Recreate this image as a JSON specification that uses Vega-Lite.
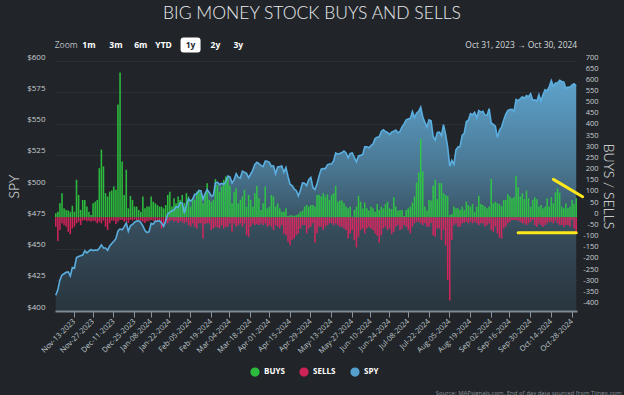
{
"$schema":"https://vega.github.io/schema/vega-lite/v6.json",
"width":522,"height":250,
"autosize":{"type":"none"},
"padding":{"left":55,"top":61,"right":47,"bottom":84},
"background":"#212529",
"config":{"view":{"stroke":null},"font":"Open Sans","axis":{"labelOverlap":false},
"axisRight":{"labelExpr":"'' + datum.value","labelAlign":"right","labelPadding":21,"labelBaseline":"bottom","labelFontSize":7.5,"labelColor":"#c8cdd2","labelBound":false,"ticks":false,"tickSize":0,"domain":false,"grid":false,"titleAngle":90,"titleFont":"Lato","titleFontSize":14,"titleFontWeight":300,"titleColor":"#e6e8ea","titlePadding":2}},
"title":{"text":"BIG MONEY STOCK BUYS AND SELLS","frame":"group","anchor":"middle","offset":15,"fontSize":17.5,"font":"Lato","fontWeight":300,"color":"#e9ecef","dx":-4},
"datasets":{
"main":[
{"d":"2023-10-31","b":18,"s":-42,"p":412.6},{"d":"2023-11-01","b":25,"s":-106,"p":416.9},{"d":"2023-11-02","b":63,"s":-57,"p":424.9},{"d":"2023-11-03","b":108,"s":-27,"p":428.8},{"d":"2023-11-06","b":40,"s":-35,"p":429.8},{"d":"2023-11-07","b":33,"s":-42,"p":431.0},{"d":"2023-11-08","b":30,"s":-65,"p":431.3},{"d":"2023-11-09","b":25,"s":-75,"p":428.0},{"d":"2023-11-10","b":52,"s":-50,"p":434.7},
{"d":"2023-11-13","b":25,"s":-42,"p":434.2},{"d":"2023-11-14","b":168,"s":-27,"p":442.7},{"d":"2023-11-15","b":100,"s":-20,"p":443.6},{"d":"2023-11-16","b":33,"s":-35,"p":444.2},{"d":"2023-11-17","b":78,"s":-15,"p":444.7},{"d":"2023-11-20","b":78,"s":-12,"p":448.1},{"d":"2023-11-21","b":48,"s":-18,"p":446.5},{"d":"2023-11-22","b":25,"s":-15,"p":447.9},{"d":"2023-11-24","b":10,"s":-20,"p":449.2},
{"d":"2023-11-27","b":63,"s":-15,"p":448.3},{"d":"2023-11-28","b":70,"s":-18,"p":448.8},{"d":"2023-11-29","b":78,"s":-27,"p":448.5},{"d":"2023-11-30","b":220,"s":-20,"p":450.2},{"d":"2023-12-01","b":303,"s":-27,"p":452.9},{"d":"2023-12-04","b":228,"s":-15,"p":450.5},{"d":"2023-12-05","b":108,"s":-42,"p":450.4},{"d":"2023-12-06","b":93,"s":-57,"p":448.6},{"d":"2023-12-07","b":115,"s":-27,"p":452.0},{"d":"2023-12-08","b":120,"s":-15,"p":454.0},
{"d":"2023-12-11","b":138,"s":-15,"p":455.8},{"d":"2023-12-12","b":123,"s":-30,"p":457.8},{"d":"2023-12-13","b":505,"s":-20,"p":464.1},{"d":"2023-12-14","b":648,"s":-12,"p":465.6},{"d":"2023-12-15","b":250,"s":-12,"p":464.9},{"d":"2023-12-18","b":100,"s":-20,"p":467.5},{"d":"2023-12-19","b":213,"s":-15,"p":470.3},{"d":"2023-12-20","b":40,"s":-25,"p":463.8},{"d":"2023-12-21","b":96,"s":-12,"p":468.2},{"d":"2023-12-22","b":78,"s":-15,"p":469.2},
{"d":"2023-12-26","b":48,"s":-10,"p":471.1},{"d":"2023-12-27","b":48,"s":-12,"p":472.0},{"d":"2023-12-28","b":33,"s":-18,"p":472.2},{"d":"2023-12-29","b":25,"s":-15,"p":470.8},{"d":"2024-01-02","b":93,"s":-20,"p":468.2},{"d":"2024-01-03","b":40,"s":-25,"p":464.3},{"d":"2024-01-04","b":48,"s":-18,"p":462.8},{"d":"2024-01-05","b":48,"s":-15,"p":463.5},
{"d":"2024-01-08","b":93,"s":-12,"p":470.1},{"d":"2024-01-09","b":70,"s":-15,"p":469.4},{"d":"2024-01-10","b":63,"s":-20,"p":472.0},{"d":"2024-01-11","b":55,"s":-18,"p":471.8},{"d":"2024-01-12","b":48,"s":-15,"p":472.2},{"d":"2024-01-16","b":48,"s":-50,"p":470.4},{"d":"2024-01-17","b":40,"s":-35,"p":467.8},{"d":"2024-01-18","b":55,"s":-25,"p":472.0},{"d":"2024-01-19","b":100,"s":-27,"p":477.8},
{"d":"2024-01-22","b":115,"s":-15,"p":478.9},{"d":"2024-01-23","b":48,"s":-12,"p":480.3},{"d":"2024-01-24","b":85,"s":-20,"p":480.8},{"d":"2024-01-25","b":63,"s":-15,"p":483.4},{"d":"2024-01-26","b":93,"s":-25,"p":482.8},{"d":"2024-01-29","b":78,"s":-18,"p":486.6},{"d":"2024-01-30","b":100,"s":-20,"p":486.2},{"d":"2024-01-31","b":65,"s":-27,"p":478.3},{"d":"2024-02-01","b":108,"s":-20,"p":484.5},{"d":"2024-02-02","b":93,"s":-35,"p":489.7},
{"d":"2024-02-05","b":48,"s":-42,"p":487.9},{"d":"2024-02-06","b":85,"s":-27,"p":489.3},{"d":"2024-02-07","b":78,"s":-42,"p":493.4},{"d":"2024-02-08","b":115,"s":-50,"p":493.6},{"d":"2024-02-09","b":123,"s":-27,"p":496.4},{"d":"2024-02-12","b":108,"s":-27,"p":496.2},{"d":"2024-02-13","b":63,"s":-95,"p":489.4},{"d":"2024-02-14","b":108,"s":-30,"p":493.8},{"d":"2024-02-15","b":153,"s":-27,"p":497.2},{"d":"2024-02-16","b":78,"s":-27,"p":494.8},
{"d":"2024-02-20","b":70,"s":-57,"p":492.0},{"d":"2024-02-21","b":78,"s":-50,"p":492.5},{"d":"2024-02-22","b":171,"s":-42,"p":502.7},{"d":"2024-02-23","b":145,"s":-45,"p":503.0},{"d":"2024-02-26","b":115,"s":-50,"p":501.2},{"d":"2024-02-27","b":138,"s":-35,"p":502.1},{"d":"2024-02-28","b":168,"s":-50,"p":501.4},{"d":"2024-02-29","b":183,"s":-42,"p":503.3},{"d":"2024-03-01","b":180,"s":-42,"p":508.0},
{"d":"2024-03-04","b":141,"s":-27,"p":507.4},{"d":"2024-03-05","b":63,"s":-65,"p":502.4},{"d":"2024-03-06","b":115,"s":-27,"p":504.9},{"d":"2024-03-07","b":130,"s":-42,"p":509.9},{"d":"2024-03-08","b":63,"s":-35,"p":506.9},{"d":"2024-03-11","b":78,"s":-27,"p":506.4},{"d":"2024-03-12","b":93,"s":-42,"p":511.9},{"d":"2024-03-13","b":123,"s":-27,"p":511.1},{"d":"2024-03-14","b":48,"s":-80,"p":510.1},{"d":"2024-03-15","b":100,"s":-87,"p":506.6},
{"d":"2024-03-18","b":78,"s":-42,"p":509.6},{"d":"2024-03-19","b":48,"s":-27,"p":512.5},{"d":"2024-03-20","b":108,"s":-35,"p":517.2},{"d":"2024-03-21","b":141,"s":-30,"p":518.9},{"d":"2024-03-22","b":85,"s":-35,"p":517.9},{"d":"2024-03-25","b":33,"s":-27,"p":516.5},{"d":"2024-03-26","b":63,"s":-35,"p":515.5},{"d":"2024-03-27","b":138,"s":-27,"p":519.9},{"d":"2024-03-28","b":40,"s":-42,"p":519.8},
{"d":"2024-04-01","b":48,"s":-35,"p":518.9},{"d":"2024-04-02","b":100,"s":-42,"p":515.6},{"d":"2024-04-03","b":93,"s":-57,"p":516.1},{"d":"2024-04-04","b":48,"s":-35,"p":509.8},{"d":"2024-04-05","b":63,"s":-42,"p":515.2},{"d":"2024-04-08","b":40,"s":-50,"p":515.5},{"d":"2024-04-09","b":25,"s":-35,"p":516.0},{"d":"2024-04-10","b":25,"s":-72,"p":510.9},{"d":"2024-04-11","b":40,"s":-80,"p":514.7},{"d":"2024-04-12","b":6,"s":-110,"p":507.6},
{"d":"2024-04-15","b":9,"s":-125,"p":501.3},{"d":"2024-04-16","b":9,"s":-102,"p":500.4},{"d":"2024-04-17","b":6,"s":-95,"p":497.4},{"d":"2024-04-18","b":10,"s":-80,"p":496.4},{"d":"2024-04-19","b":15,"s":-72,"p":492.0},{"d":"2024-04-22","b":25,"s":-50,"p":496.6},{"d":"2024-04-23","b":30,"s":-35,"p":502.5},{"d":"2024-04-24","b":48,"s":-35,"p":502.2},{"d":"2024-04-25","b":55,"s":-72,"p":500.3},{"d":"2024-04-26","b":48,"s":-50,"p":505.1},
{"d":"2024-04-29","b":55,"s":-42,"p":506.8},{"d":"2024-04-30","b":55,"s":-27,"p":498.8},{"d":"2024-05-01","b":48,"s":-114,"p":497.2},{"d":"2024-05-02","b":100,"s":-70,"p":501.8},{"d":"2024-05-03","b":100,"s":-42,"p":508.1},{"d":"2024-05-06","b":93,"s":-42,"p":513.5},{"d":"2024-05-07","b":108,"s":-57,"p":513.9},{"d":"2024-05-08","b":93,"s":-42,"p":513.9},{"d":"2024-05-09","b":103,"s":-35,"p":516.9},{"d":"2024-05-10","b":78,"s":-27,"p":517.6},
{"d":"2024-05-13","b":100,"s":-27,"p":517.6},{"d":"2024-05-14","b":108,"s":-35,"p":520.0},{"d":"2024-05-15","b":141,"s":-27,"p":526.4},{"d":"2024-05-16","b":70,"s":-35,"p":525.4},{"d":"2024-05-17","b":75,"s":-42,"p":526.1},{"d":"2024-05-20","b":75,"s":-42,"p":526.7},{"d":"2024-05-21","b":63,"s":-50,"p":528.0},{"d":"2024-05-22","b":48,"s":-57,"p":526.5},{"d":"2024-05-23","b":40,"s":-95,"p":522.6},{"d":"2024-05-24","b":48,"s":-72,"p":526.1},
{"d":"2024-05-28","b":3,"s":-57,"p":526.5},{"d":"2024-05-29","b":33,"s":-102,"p":522.8},{"d":"2024-05-30","b":48,"s":-135,"p":519.3},{"d":"2024-05-31","b":96,"s":-87,"p":524.0},{"d":"2024-06-03","b":70,"s":-57,"p":524.5},{"d":"2024-06-04","b":40,"s":-50,"p":525.1},{"d":"2024-06-05","b":66,"s":-72,"p":531.3},{"d":"2024-06-06","b":40,"s":-50,"p":531.3},{"d":"2024-06-07","b":30,"s":-42,"p":530.6},
{"d":"2024-06-10","b":48,"s":-50,"p":532.3},{"d":"2024-06-11","b":40,"s":-57,"p":533.6},{"d":"2024-06-12","b":25,"s":-72,"p":537.9},{"d":"2024-06-13","b":60,"s":-83,"p":539.0},{"d":"2024-06-14","b":33,"s":-114,"p":539.4},{"d":"2024-06-17","b":48,"s":-80,"p":543.7},{"d":"2024-06-18","b":40,"s":-50,"p":545.0},{"d":"2024-06-20","b":60,"s":-42,"p":543.6},{"d":"2024-06-21","b":70,"s":-57,"p":542.8},
{"d":"2024-06-24","b":40,"s":-50,"p":541.1},{"d":"2024-06-25","b":36,"s":-75,"p":543.1},{"d":"2024-06-26","b":90,"s":-65,"p":543.8},{"d":"2024-06-27","b":48,"s":-42,"p":544.7},{"d":"2024-06-28","b":30,"s":-35,"p":542.5},{"d":"2024-07-01","b":33,"s":-57,"p":543.6},{"d":"2024-07-02","b":33,"s":-50,"p":547.3},{"d":"2024-07-03","b":6,"s":-35,"p":549.7},{"d":"2024-07-05","b":33,"s":-42,"p":552.9},
{"d":"2024-07-08","b":40,"s":-57,"p":553.6},{"d":"2024-07-09","b":48,"s":-72,"p":554.1},{"d":"2024-07-10","b":66,"s":-42,"p":559.6},{"d":"2024-07-11","b":93,"s":-27,"p":554.8},{"d":"2024-07-12","b":156,"s":-20,"p":558.3},{"d":"2024-07-15","b":201,"s":-20,"p":559.8},{"d":"2024-07-16","b":351,"s":-27,"p":563.1},{"d":"2024-07-17","b":205,"s":-35,"p":555.2},{"d":"2024-07-18","b":48,"s":-27,"p":550.9},{"d":"2024-07-19","b":30,"s":-42,"p":547.3},
{"d":"2024-07-22","b":78,"s":-42,"p":552.9},{"d":"2024-07-23","b":75,"s":-26,"p":552.1},{"d":"2024-07-24","b":141,"s":-80,"p":539.6},{"d":"2024-07-25","b":168,"s":-87,"p":536.7},{"d":"2024-07-26","b":81,"s":-50,"p":542.8},{"d":"2024-07-29","b":153,"s":-50,"p":543.1},{"d":"2024-07-30","b":153,"s":-102,"p":540.3},{"d":"2024-07-31","b":108,"s":-57,"p":549.1},{"d":"2024-08-01","b":100,"s":-125,"p":541.3},{"d":"2024-08-02","b":95,"s":-280,"p":531.2},
{"d":"2024-08-05","b":10,"s":-372,"p":515.8},{"d":"2024-08-06","b":15,"s":-102,"p":520.5},{"d":"2024-08-07","b":48,"s":-35,"p":517.1},{"d":"2024-08-08","b":40,"s":-27,"p":529.0},{"d":"2024-08-09","b":40,"s":-42,"p":531.3},{"d":"2024-08-12","b":33,"s":-42,"p":531.6},{"d":"2024-08-13","b":48,"s":-27,"p":540.4},{"d":"2024-08-14","b":33,"s":-24,"p":542.1},{"d":"2024-08-15","b":70,"s":-20,"p":551.4},{"d":"2024-08-16","b":55,"s":-27,"p":552.6},
{"d":"2024-08-19","b":48,"s":-20,"p":557.9},{"d":"2024-08-20","b":60,"s":-27,"p":557.0},{"d":"2024-08-21","b":25,"s":-20,"p":558.9},{"d":"2024-08-22","b":48,"s":-27,"p":554.5},{"d":"2024-08-23","b":96,"s":-35,"p":560.4},{"d":"2024-08-26","b":60,"s":-27,"p":559.1},{"d":"2024-08-27","b":55,"s":-27,"p":559.8},{"d":"2024-08-28","b":48,"s":-42,"p":556.6},{"d":"2024-08-29","b":40,"s":-35,"p":556.6},{"d":"2024-08-30","b":48,"s":-27,"p":561.9},
{"d":"2024-09-03","b":171,"s":-57,"p":550.4},{"d":"2024-09-04","b":63,"s":-65,"p":549.2},{"d":"2024-09-05","b":70,"s":-42,"p":547.9},{"d":"2024-09-06","b":63,"s":-72,"p":538.7},{"d":"2024-09-09","b":59,"s":-91,"p":544.7},{"d":"2024-09-10","b":51,"s":-95,"p":547.1},{"d":"2024-09-11","b":78,"s":-50,"p":552.7},{"d":"2024-09-12","b":78,"s":-42,"p":557.4},{"d":"2024-09-13","b":103,"s":-27,"p":560.3},
{"d":"2024-09-16","b":93,"s":-20,"p":561.1},{"d":"2024-09-17","b":85,"s":-12,"p":561.3},{"d":"2024-09-18","b":90,"s":-12,"p":559.7},{"d":"2024-09-19","b":186,"s":-12,"p":569.2},{"d":"2024-09-20","b":135,"s":-15,"p":568.3},{"d":"2024-09-23","b":93,"s":-20,"p":569.7},{"d":"2024-09-24","b":108,"s":-27,"p":571.3},{"d":"2024-09-25","b":81,"s":-27,"p":570.0},{"d":"2024-09-26","b":120,"s":-35,"p":572.3},{"d":"2024-09-27","b":85,"s":-27,"p":571.5},
{"d":"2024-09-30","b":48,"s":-20,"p":573.8},{"d":"2024-10-01","b":78,"s":-12,"p":568.6},{"d":"2024-10-02","b":90,"s":-35,"p":568.9},{"d":"2024-10-03","b":81,"s":-42,"p":567.8},{"d":"2024-10-04","b":48,"s":-27,"p":573.0},{"d":"2024-10-07","b":55,"s":-35,"p":567.8},{"d":"2024-10-08","b":40,"s":-42,"p":573.2},{"d":"2024-10-09","b":48,"s":-35,"p":577.1},{"d":"2024-10-10","b":85,"s":-27,"p":576.1},{"d":"2024-10-11","b":48,"s":-20,"p":579.6},
{"d":"2024-10-14","b":90,"s":-20,"p":584.3},{"d":"2024-10-15","b":63,"s":-27,"p":579.8},{"d":"2024-10-16","b":112,"s":-15,"p":582.3},{"d":"2024-10-17","b":130,"s":-27,"p":582.4},{"d":"2024-10-18","b":111,"s":-35,"p":584.6},{"d":"2024-10-21","b":48,"s":-35,"p":583.6},{"d":"2024-10-22","b":40,"s":-42,"p":583.3},{"d":"2024-10-23","b":63,"s":-35,"p":578.0},{"d":"2024-10-24","b":40,"s":-35,"p":579.2},{"d":"2024-10-25","b":48,"s":-42,"p":579.0},
{"d":"2024-10-28","b":78,"s":-12,"p":580.8},{"d":"2024-10-29","b":60,"s":-50,"p":581.8},{"d":"2024-10-30","b":85,"s":-70,"p":580.0}
],
"ui":[
{"d":"2023-11-07","t":"Zoom","k":"z"},{"d":"2023-11-22","t":"1m","k":"b"},{"d":"2023-12-12","t":"3m","k":"b"},{"d":"2023-12-29","t":"6m","k":"b"},{"d":"2024-01-17","t":"YTD","k":"b"},{"d":"2024-02-05","t":"1y","k":"s"},{"d":"2024-02-22","t":"2y","k":"b"},{"d":"2024-03-08","t":"3y","k":"b"},{"d":"2024-10-30","t":"Oct 31, 2023  \u2192  Oct 30, 2024","k":"r"}
],
"annD":[{"d":"2024-10-15","d2":"2024-10-30","v":170,"v2":92}],
"annH":[{"d":"2024-09-20","d2":"2024-10-30","v":-69}]
},
"encoding":{"x":{"field":"d","type":"ordinal","scale":{"paddingInner":0.25,"paddingOuter":0},
"axis":{"values":["2023-11-13","2023-11-27","2023-12-11","2023-12-26","2024-01-08","2024-01-22","2024-02-05","2024-02-20","2024-03-04","2024-03-18","2024-04-01","2024-04-15","2024-04-29","2024-05-13","2024-05-28","2024-06-10","2024-06-24","2024-07-08","2024-07-22","2024-08-05","2024-08-19","2024-09-03","2024-09-16","2024-09-30","2024-10-14","2024-10-28"],
"labelExpr":"utcFormat(toDate(datum.value) - (utcday(toDate(datum.value)) - 1) * 86400000, '%b-%d-%Y')",
"bandPosition":0.5,"labelAngle":-45,"labelAlign":"right","labelBaseline":"middle","labelFontSize":7.5,"labelColor":"#bfc5cb","labelPadding":3,"labelOverlap":false,
"tickColor":"#8a939c","tickSize":6,"tickWidth":1,"domainColor":"#7f8893","domainWidth":2,"grid":false,"zindex":1,
"title":"Source: MAPsignals.com. End of day data sourced from Tiingo.com","titleFontSize":6,"titleColor":"#8b9096","titleFontWeight":"normal","titleAlign":"right","titleAnchor":"end","titleX":566,"titleY":83,"titleBaseline":"alphabetic"}}},
"layer":[
{"data":{"name":"main"},
 "mark":{"type":"area","fill":{"gradient":"linear","x1":0,"y1":0,"x2":0,"y2":1,"stops":[{"offset":0,"color":"#5ea2cc"},{"offset":0.37,"color":"#4a7894"},{"offset":0.65,"color":"#364c5b"},{"offset":1,"color":"#29353e"}]}},
 "encoding":{"y":{"field":"p","type":"quantitative","scale":{"domain":[400,600],"nice":false,"zero":false},
   "axis":{"orient":"left","values":[400,425,450,475,500,525,550,575,600],"format":"$.0f","labelFontSize":8,"labelColor":"#c8cdd2","labelPadding":10,"labelBaseline":"bottom","labelOverlap":false,"ticks":false,"tickSize":0,"domain":false,"grid":true,"gridColor":"#2b3035","title":"SPY","titleFont":"Lato","titleFontSize":14,"titleFontWeight":300,"titleColor":"#e6e8ea","titlePadding":5}},
  "y2":{"datum":400}}},
{"layer":[
 {"data":{"name":"main"},"mark":{"type":"bar","opacity":0.9},
  "encoding":{"y":{"field":"b","type":"quantitative","stack":null,"scale":{"domain":[-419.6,700],"nice":false,"zero":false},
    "axis":{"orient":"right","title":"BUYS / SELLS","values":[-400,-350,-300,-250,-200,-150,-100,-50,0,50,100,150,200,250,300,350,400,450,500,550,600,650,700],"labelOverlap":false,"labelSeparation":0}},
   "color":{"datum":"BUYS","type":"nominal","scale":{"domain":["BUYS","SELLS","SPY"],"range":["#2ecc40","#e0245e","#5aaee0"]},
    "legend":{"orient":"none","legendX":195,"legendY":306,"direction":"horizontal","title":null,"symbolType":"circle","symbolSize":60,"symbolOpacity":1,"labelColor":"#ffffff","labelFontSize":8,"labelFontWeight":"bold","labelFont":"Open Sans","columnPadding":12,"labelOffset":4}}}},
 {"data":{"name":"main"},"mark":{"type":"bar","opacity":0.9},
  "encoding":{"y":{"field":"s","type":"quantitative","stack":null,
    "axis":{"orient":"right","title":"BUYS / SELLS","values":[-400,-350,-300,-250,-200,-150,-100,-50,0,50,100,150,200,250,300,350,400,450,500,550,600,650,700],"labelOverlap":false,"labelSeparation":0}},
   "color":{"datum":"SELLS","type":"nominal"}}},
 {"data":{"name":"annD"},"mark":{"type":"rule","color":"#ffe81a","strokeWidth":3,"strokeCap":"round","x2Offset":6.4},
  "encoding":{"x2":{"field":"d2"},"y":{"field":"v","type":"quantitative","axis":{"orient":"right","title":"BUYS / SELLS","values":[-400,-350,-300,-250,-200,-150,-100,-50,0,50,100,150,200,250,300,350,400,450,500,550,600,650,700],"labelOverlap":false,"labelSeparation":0}},"y2":{"field":"v2"}}},
 {"data":{"name":"annH"},"mark":{"type":"rule","color":"#ffe81a","strokeWidth":3,"strokeCap":"round"},
  "encoding":{"x2":{"field":"d2"},"y":{"field":"v","type":"quantitative","axis":{"orient":"right","title":"BUYS / SELLS","values":[-400,-350,-300,-250,-200,-150,-100,-50,0,50,100,150,200,250,300,350,400,450,500,550,600,650,700],"labelOverlap":false,"labelSeparation":0}}}}
]},
{"layer":[
 {"data":{"name":"main"},"mark":{"type":"line","strokeWidth":1.6},
  "encoding":{"y":{"field":"p","type":"quantitative","scale":{"domain":[400,600],"nice":false,"zero":false},"axis":null},
   "color":{"datum":"SPY","type":"nominal"}}},
 {"data":{"name":"ui"},"transform":[{"filter":"datum.k=='s'"}],
  "mark":{"type":"point","shape":"M-0.7,-0.75L0.7,-0.75Q1,-0.75 1,-0.45L1,0.45Q1,0.75 0.7,0.75L-0.7,0.75Q-1,0.75 -1,0.45L-1,-0.45Q-1,-0.75 -0.7,-0.75Z","size":400,"filled":true,"fill":"#ffffff","opacity":1,"strokeWidth":0},
  "encoding":{"y":{"datum":612.8,"type":"quantitative","axis":null}}},
 {"data":{"name":"ui"},"transform":[{"filter":"datum.k=='z'"}],
  "mark":{"type":"text","fontSize":8.5,"color":"#b9bdc2","baseline":"middle","align":"center"},
  "encoding":{"y":{"datum":612.8,"type":"quantitative","axis":null},"text":{"field":"t"}}},
 {"data":{"name":"ui"},"transform":[{"filter":"datum.k=='b' || datum.k=='s'"}],
  "mark":{"type":"text","fontSize":8.5,"fontWeight":"bold","baseline":"middle","align":"center"},
  "encoding":{"y":{"datum":612.8,"type":"quantitative","axis":null},"text":{"field":"t"},
   "color":{"condition":{"test":"datum.k=='s'","value":"#23272b"},"value":"#ffffff"}}},
 {"data":{"name":"ui"},"transform":[{"filter":"datum.k=='r'"}],
  "mark":{"type":"text","fontSize":8.5,"color":"#d4d8dc","baseline":"middle","align":"right","dx":1},
  "encoding":{"y":{"datum":612.8,"type":"quantitative","axis":null},"text":{"field":"t"}}}
]}
],
"resolve":{"scale":{"y":"independent"}}
}
